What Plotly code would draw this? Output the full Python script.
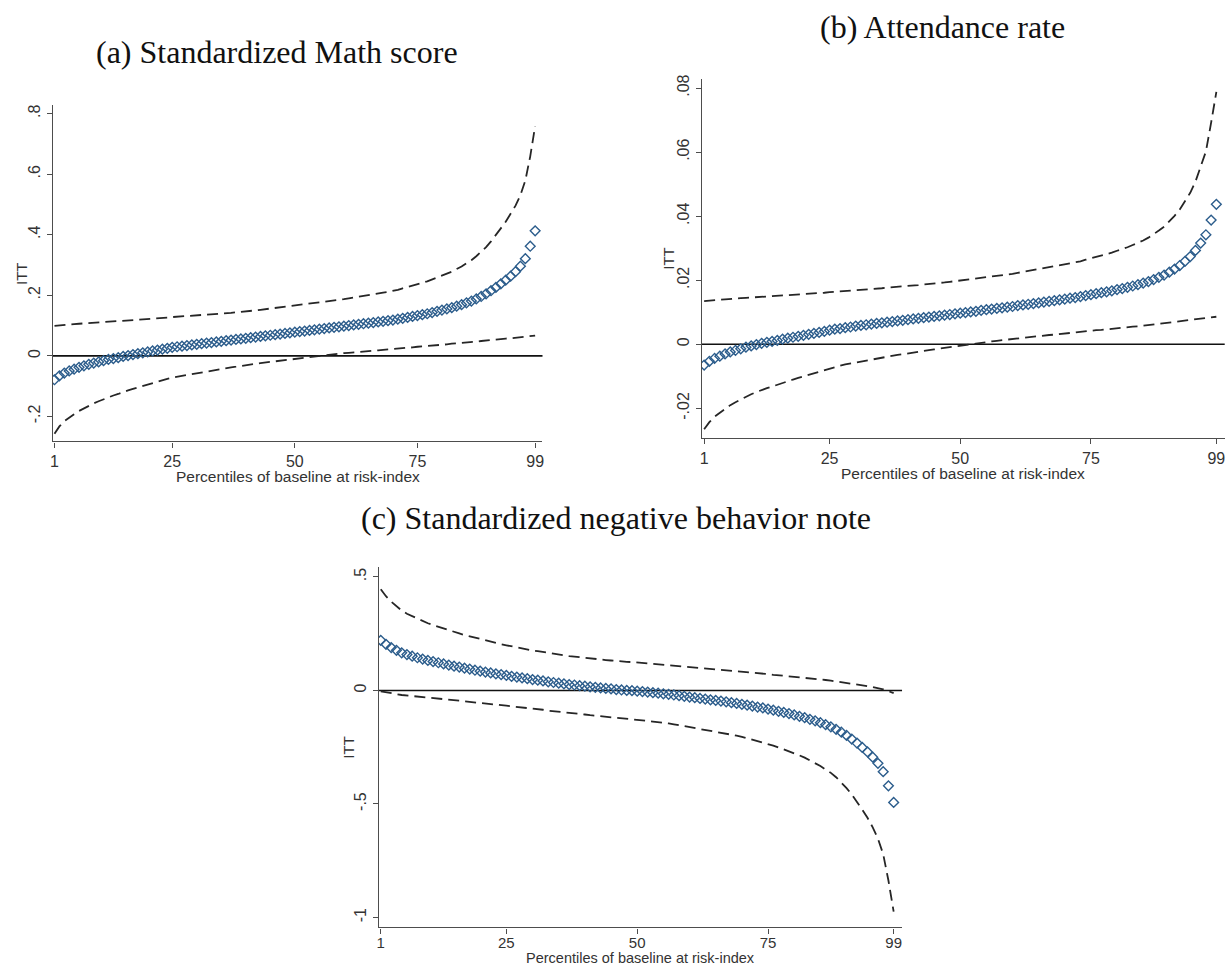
import plotly.graph_objects as go

# Percentiles of the baseline at-risk index
pct = list(range(1, 100))
x_tickvals = [1, 25, 50, 75, 99]
x_ticktext = ["1", "25", "50", "75", "99"]

# (a) Standardized Math score: ITT point estimate and 95% CI bounds
a_est = [-0.079, -0.066, -0.057, -0.050, -0.044, -0.038, -0.033, -0.028, -0.024, -0.020,
         -0.016, -0.012, -0.009, -0.006, -0.002, 0.001, 0.004, 0.007, 0.010, 0.013,
         0.016, 0.019, 0.022, 0.025, 0.028, 0.030, 0.032, 0.034, 0.036, 0.038,
         0.040, 0.042, 0.044, 0.046, 0.048, 0.050, 0.052, 0.054, 0.056, 0.058,
         0.060, 0.062, 0.064, 0.066, 0.068, 0.070, 0.072, 0.074, 0.076, 0.078,
         0.080, 0.082, 0.084, 0.086, 0.088, 0.090, 0.092, 0.094, 0.096, 0.098,
         0.100, 0.102, 0.104, 0.106, 0.108, 0.110, 0.112, 0.114, 0.116, 0.118,
         0.121, 0.124, 0.127, 0.130, 0.133, 0.136, 0.139, 0.143, 0.147, 0.151,
         0.155, 0.159, 0.164, 0.169, 0.175, 0.181, 0.188, 0.196, 0.205, 0.215,
         0.226, 0.238, 0.250, 0.263, 0.278, 0.296, 0.321, 0.362, 0.413]
a_lo = [-0.257, -0.233, -0.216, -0.203, -0.193, -0.182, -0.173, -0.164, -0.157, -0.150,
        -0.143, -0.136, -0.131, -0.126, -0.119, -0.114, -0.109, -0.104, -0.100, -0.095,
        -0.090, -0.085, -0.081, -0.076, -0.072, -0.069, -0.066, -0.063, -0.060, -0.057,
        -0.054, -0.052, -0.049, -0.046, -0.044, -0.041, -0.038, -0.036, -0.033, -0.031,
        -0.029, -0.026, -0.024, -0.022, -0.019, -0.017, -0.015, -0.013, -0.011, -0.009,
        -0.007, -0.005, -0.003, -0.001, 0.000, 0.002, 0.004, 0.005, 0.007, 0.009,
        0.010, 0.011, 0.013, 0.014, 0.016, 0.017, 0.018, 0.020, 0.021, 0.022,
        0.024, 0.025, 0.027, 0.028, 0.030, 0.031, 0.032, 0.034, 0.036, 0.037,
        0.038, 0.040, 0.041, 0.043, 0.044, 0.046, 0.047, 0.049, 0.051, 0.052,
        0.054, 0.056, 0.057, 0.058, 0.060, 0.061, 0.063, 0.065, 0.067]
a_hi = [0.099, 0.101, 0.102, 0.103, 0.105, 0.106, 0.107, 0.108, 0.109, 0.110,
        0.111, 0.112, 0.113, 0.114, 0.115, 0.116, 0.117, 0.118, 0.120, 0.121,
        0.122, 0.123, 0.125, 0.126, 0.128, 0.129, 0.130, 0.131, 0.132, 0.133,
        0.134, 0.136, 0.137, 0.138, 0.140, 0.141, 0.142, 0.144, 0.145, 0.147,
        0.149, 0.150, 0.152, 0.154, 0.155, 0.157, 0.159, 0.161, 0.163, 0.165,
        0.167, 0.169, 0.171, 0.173, 0.176, 0.178, 0.180, 0.183, 0.185, 0.187,
        0.190, 0.193, 0.195, 0.198, 0.200, 0.203, 0.206, 0.209, 0.211, 0.214,
        0.218, 0.223, 0.227, 0.232, 0.236, 0.241, 0.246, 0.252, 0.259, 0.265,
        0.272, 0.278, 0.287, 0.295, 0.306, 0.316, 0.329, 0.343, 0.359, 0.378,
        0.398, 0.421, 0.443, 0.468, 0.496, 0.531, 0.579, 0.659, 0.759]

# (b) Attendance rate
b_est = [-0.0065, -0.0053, -0.0044, -0.0037, -0.0030, -0.0024, -0.0019, -0.0014, -0.0009, -0.0005,
         -0.0001, 0.0003, 0.0006, 0.0009, 0.0012, 0.0016, 0.0019, 0.0022, 0.0025, 0.0028,
         0.0031, 0.0034, 0.0037, 0.0040, 0.0044, 0.0047, 0.0049, 0.0052, 0.0054, 0.0057,
         0.0059, 0.0061, 0.0063, 0.0065, 0.0067, 0.0069, 0.0071, 0.0073, 0.0075, 0.0077,
         0.0079, 0.0081, 0.0083, 0.0085, 0.0087, 0.0089, 0.0091, 0.0093, 0.0095, 0.0097,
         0.0099, 0.0101, 0.0103, 0.0106, 0.0108, 0.0110, 0.0112, 0.0114, 0.0116, 0.0118,
         0.0121, 0.0123, 0.0125, 0.0127, 0.0129, 0.0132, 0.0134, 0.0136, 0.0139, 0.0141,
         0.0144, 0.0146, 0.0149, 0.0152, 0.0155, 0.0158, 0.0161, 0.0164, 0.0167, 0.0171,
         0.0174, 0.0178, 0.0182, 0.0186, 0.0191, 0.0196, 0.0202, 0.0209, 0.0216, 0.0225,
         0.0235, 0.0246, 0.0259, 0.0274, 0.0293, 0.0316, 0.0342, 0.0388, 0.0437]
b_lo = [-0.0265, -0.0243, -0.0226, -0.0213, -0.0200, -0.0190, -0.0181, -0.0172, -0.0163, -0.0156,
        -0.0149, -0.0142, -0.0137, -0.0132, -0.0126, -0.0120, -0.0115, -0.0110, -0.0105, -0.0100,
        -0.0095, -0.0090, -0.0085, -0.0081, -0.0075, -0.0070, -0.0067, -0.0063, -0.0060, -0.0055,
        -0.0052, -0.0050, -0.0047, -0.0044, -0.0041, -0.0039, -0.0036, -0.0033, -0.0031, -0.0028,
        -0.0026, -0.0023, -0.0021, -0.0018, -0.0016, -0.0013, -0.0011, -0.0009, -0.0007, -0.0004,
        -0.0002, 0.0000, 0.0002, 0.0005, 0.0007, 0.0009, 0.0011, 0.0013, 0.0014, 0.0016,
        0.0019, 0.0020, 0.0022, 0.0024, 0.0025, 0.0027, 0.0029, 0.0030, 0.0032, 0.0034,
        0.0036, 0.0037, 0.0039, 0.0041, 0.0042, 0.0044, 0.0045, 0.0047, 0.0048, 0.0050,
        0.0051, 0.0053, 0.0055, 0.0056, 0.0058, 0.0059, 0.0061, 0.0063, 0.0065, 0.0067,
        0.0069, 0.0071, 0.0073, 0.0075, 0.0078, 0.0080, 0.0082, 0.0084, 0.0086]
b_hi = [0.0135, 0.0137, 0.0138, 0.0139, 0.0140, 0.0142, 0.0143, 0.0144, 0.0145, 0.0146,
        0.0147, 0.0148, 0.0149, 0.0150, 0.0150, 0.0152, 0.0153, 0.0154, 0.0155, 0.0156,
        0.0157, 0.0158, 0.0159, 0.0161, 0.0163, 0.0164, 0.0165, 0.0167, 0.0168, 0.0169,
        0.0170, 0.0172, 0.0173, 0.0174, 0.0175, 0.0177, 0.0178, 0.0179, 0.0181, 0.0182,
        0.0184, 0.0185, 0.0187, 0.0188, 0.0190, 0.0191, 0.0193, 0.0195, 0.0197, 0.0198,
        0.0200, 0.0202, 0.0204, 0.0207, 0.0209, 0.0211, 0.0213, 0.0215, 0.0218, 0.0220,
        0.0223, 0.0226, 0.0228, 0.0230, 0.0233, 0.0237, 0.0239, 0.0242, 0.0246, 0.0248,
        0.0252, 0.0255, 0.0259, 0.0264, 0.0268, 0.0272, 0.0277, 0.0281, 0.0286, 0.0292,
        0.0297, 0.0303, 0.0310, 0.0316, 0.0324, 0.0333, 0.0343, 0.0355, 0.0367, 0.0383,
        0.0401, 0.0421, 0.0445, 0.0473, 0.0508, 0.0552, 0.0602, 0.0692, 0.0788]

# (c) Standardized negative behavior note
c_est = [0.221, 0.203, 0.189, 0.177, 0.166, 0.158, 0.151, 0.144, 0.138, 0.132,
         0.127, 0.122, 0.117, 0.112, 0.107, 0.103, 0.098, 0.094, 0.089, 0.085,
         0.081, 0.077, 0.073, 0.070, 0.066, 0.062, 0.059, 0.055, 0.052, 0.048,
         0.045, 0.042, 0.038, 0.035, 0.032, 0.029, 0.026, 0.024, 0.021, 0.019,
         0.016, 0.014, 0.011, 0.009, 0.007, 0.004, 0.002, 0.000, -0.001, -0.003,
         -0.005, -0.007, -0.010, -0.012, -0.015, -0.017, -0.020, -0.023, -0.026, -0.029,
         -0.032, -0.035, -0.038, -0.041, -0.044, -0.047, -0.050, -0.054, -0.057, -0.061,
         -0.065, -0.069, -0.073, -0.077, -0.082, -0.087, -0.092, -0.097, -0.102, -0.108,
         -0.114, -0.120, -0.127, -0.134, -0.142, -0.151, -0.160, -0.171, -0.184, -0.198,
         -0.214, -0.232, -0.251, -0.271, -0.294, -0.321, -0.358, -0.420, -0.493]
c_lo = [-0.004, -0.009, -0.013, -0.016, -0.020, -0.022, -0.025, -0.027, -0.030, -0.032,
        -0.034, -0.036, -0.038, -0.041, -0.043, -0.045, -0.048, -0.050, -0.053, -0.055,
        -0.057, -0.060, -0.062, -0.064, -0.067, -0.070, -0.072, -0.075, -0.077, -0.080,
        -0.083, -0.085, -0.089, -0.091, -0.094, -0.097, -0.099, -0.101, -0.104, -0.106,
        -0.109, -0.111, -0.114, -0.116, -0.118, -0.121, -0.124, -0.126, -0.127, -0.129,
        -0.131, -0.134, -0.137, -0.139, -0.143, -0.145, -0.149, -0.153, -0.157, -0.160,
        -0.164, -0.168, -0.172, -0.176, -0.180, -0.184, -0.189, -0.194, -0.199, -0.204,
        -0.210, -0.216, -0.222, -0.228, -0.236, -0.243, -0.251, -0.259, -0.267, -0.276,
        -0.286, -0.296, -0.308, -0.319, -0.333, -0.348, -0.363, -0.382, -0.405, -0.430,
        -0.458, -0.490, -0.525, -0.561, -0.603, -0.653, -0.721, -0.837, -0.974]
c_hi = [0.446, 0.415, 0.391, 0.370, 0.352, 0.338, 0.327, 0.315, 0.306, 0.296,
        0.288, 0.280, 0.272, 0.265, 0.257, 0.251, 0.244, 0.238, 0.231, 0.225,
        0.219, 0.214, 0.208, 0.204, 0.199, 0.194, 0.190, 0.185, 0.181, 0.176,
        0.173, 0.169, 0.165, 0.161, 0.158, 0.155, 0.151, 0.149, 0.146, 0.144,
        0.141, 0.139, 0.136, 0.134, 0.132, 0.129, 0.128, 0.126, 0.125, 0.123,
        0.121, 0.120, 0.117, 0.115, 0.113, 0.111, 0.109, 0.107, 0.105, 0.102,
        0.100, 0.098, 0.096, 0.094, 0.092, 0.090, 0.089, 0.086, 0.085, 0.082,
        0.080, 0.078, 0.076, 0.074, 0.072, 0.069, 0.067, 0.065, 0.063, 0.060,
        0.058, 0.056, 0.054, 0.051, 0.049, 0.046, 0.043, 0.040, 0.037, 0.034,
        0.030, 0.026, 0.023, 0.019, 0.015, 0.011, 0.005, -0.003, -0.012]

# y-axis ticks per panel
a_ytickvals = [-0.2, 0, 0.2, 0.4, 0.6, 0.8]
a_yticktext = ["-.2", "0", ".2", ".4", ".6", ".8"]
b_ytickvals = [-0.02, 0, 0.02, 0.04, 0.06, 0.08]
b_yticktext = ["-.02", "0", ".02", ".04", ".06", ".08"]
c_ytickvals = [-1, -0.5, 0, 0.5]
c_yticktext = ["-1", "-.5", "0", ".5"]

titles = ["(a) Standardized Math score", "(b) Attendance rate",
          "(c) Standardized negative behavior note"]
x_title = "Percentiles of baseline at risk-index"
y_title = "ITT"

SANS = "Liberation Sans, Arial, sans-serif"
SERIF = "Liberation Serif, Times New Roman, serif"
BLUE = "#2c5d8c"
DASH_COLOR = "#262626"
AXIS_COLOR = "#4d4d4d"
TEXT_COLOR = "#333333"

W, H = 1231, 967

panels = [
    dict(est=a_est, lo=a_lo, hi=a_hi, yvals=a_ytickvals, ytext=a_yticktext,
         xdom=[50 / W, 541.7 / W], ydom=[1 - 439.3 / H, 1 - 101 / H],
         xrange=[0.655, 100.5], yrange=[-0.2829, 0.8299],
         title_xy=(275 / W, 1 - 48 / H), xtitle_y=1 - 474 / H, ytitle_x=18 / W,
         tick_size=16, tick_standoff=0, xtitle_size=15.5),
    dict(est=b_est, lo=b_lo, hi=b_hi, yvals=b_ytickvals, ytext=b_yticktext,
         xdom=[701.7 / W, 1226.7 / W], ydom=[1 - 436 / H, 1 - 75 / H],
         xrange=[0.562, 100.6], yrange=[-0.02932, 0.08293],
         title_xy=(943 / W, 1 - 23 / H), xtitle_y=1 - 471 / H, ytitle_x=668 / W,
         tick_size=16, tick_standoff=0, xtitle_size=15.5),
    dict(est=c_est, lo=c_lo, hi=c_hi, yvals=c_ytickvals, ytext=c_yticktext,
         xdom=[377.3 / W, 902.7 / W], ydom=[1 - 927.3 / H, 1 - 565 / H],
         xrange=[0.619, 100.6], yrange=[-1.0439, 0.5452],
         title_xy=(615 / W, 1 - 516 / H), xtitle_y=1 - 957.5 / H, ytitle_x=346 / W,
         tick_size=15, tick_standoff=-4, xtitle_size=14.5),
]

fig = go.Figure()
annotations = []
layout_axes = {}

for i, p in enumerate(panels, start=1):
    xa = "x" if i == 1 else f"x{i}"
    ya = "y" if i == 1 else f"y{i}"
    dash_line = dict(color=DASH_COLOR, width=1.8, dash="11px,6px")
    fig.add_trace(go.Scatter(x=pct, y=p["hi"], mode="lines", line=dash_line,
                             xaxis=xa, yaxis=ya, hoverinfo="skip"))
    fig.add_trace(go.Scatter(x=pct, y=p["lo"], mode="lines", line=dash_line,
                             xaxis=xa, yaxis=ya, hoverinfo="skip"))
    fig.add_trace(go.Scatter(x=pct, y=p["est"], mode="markers",
                             marker=dict(symbol="diamond-open", size=7.5, color=BLUE,
                                         line=dict(width=1.4, color=BLUE)),
                             xaxis=xa, yaxis=ya))
    # horizontal reference line at zero across the plot region
    fig.add_shape(type="line", xref=f"{xa} domain", yref=ya, x0=0, x1=1, y0=0, y1=0,
                  line=dict(color="#111111", width=1.6), layer="below")

    xkey = "xaxis" if i == 1 else f"xaxis{i}"
    ykey = "yaxis" if i == 1 else f"yaxis{i}"
    layout_axes[xkey] = dict(
        domain=p["xdom"], range=p["xrange"], anchor=ya,
        showline=True, linecolor=AXIS_COLOR, linewidth=1.4,
        ticks="outside", ticklen=5, tickwidth=1.2, tickcolor=AXIS_COLOR,
        tickvals=x_tickvals, ticktext=x_ticktext,
        ticklabelstandoff=p["tick_standoff"],
        tickfont=dict(family=SANS, size=p["tick_size"], color=TEXT_COLOR),
        showgrid=False, zeroline=False)
    layout_axes[ykey] = dict(
        domain=p["ydom"], range=p["yrange"], anchor=xa,
        showline=True, linecolor=AXIS_COLOR, linewidth=1.4,
        ticks="outside", ticklen=5, tickwidth=1.2, tickcolor=AXIS_COLOR,
        tickvals=p["yvals"], ticktext=p["ytext"], tickangle=-90,
        tickfont=dict(family=SANS, size=16, color=TEXT_COLOR),
        showgrid=False, zeroline=False)

    tx, ty = p["title_xy"]
    annotations.append(dict(text=titles[i - 1], x=tx, y=ty, xref="paper", yref="paper",
                            showarrow=False, xanchor="center", yanchor="middle",
                            font=dict(family=SERIF, size=32, color="#111111")))
    xmid = (p["xdom"][0] + p["xdom"][1]) / 2
    annotations.append(dict(text=x_title, x=xmid, y=p["xtitle_y"], xref="paper", yref="paper",
                            showarrow=False, xanchor="center", yanchor="middle",
                            font=dict(family=SANS, size=p["xtitle_size"], color=TEXT_COLOR)))
    ymid = (p["ydom"][0] + p["ydom"][1]) / 2
    annotations.append(dict(text=y_title, x=p["ytitle_x"], y=ymid, xref="paper", yref="paper",
                            showarrow=False, xanchor="center", yanchor="middle", textangle=-90,
                            font=dict(family=SANS, size=15, color=TEXT_COLOR)))

fig.update_layout(
    width=W, height=H,
    margin=dict(l=0, r=0, t=0, b=0),
    paper_bgcolor="white", plot_bgcolor="white",
    showlegend=False,
    annotations=annotations,
    **layout_axes,
)

fig.write_html("out.html")
